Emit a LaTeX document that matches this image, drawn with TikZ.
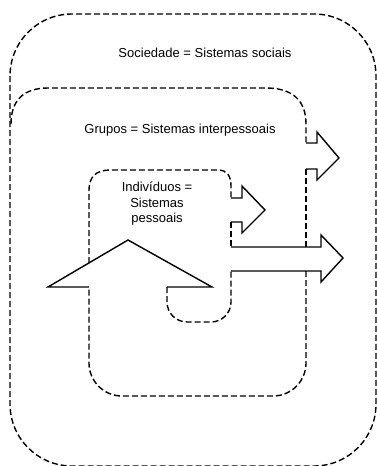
\documentclass[tikz,border=0pt]{standalone}
\usepackage{fontspec}
\setmainfont{Liberation Sans}

\begin{document}
\begin{tikzpicture}[x=1pt,y=-1pt,
  dashline/.style={line width=1.4pt,dash pattern=on 6pt off 3pt},
  arrowline/.style={line width=1.4pt,line join=miter},
  label/.style={font=\fontsize{13}{15.5}\selectfont,align=center}]
\useasboundingbox (0,0) rectangle (377,466);

\draw[dashline,rounded corners=62pt] (10,14) rectangle (376,466);
\draw[dashline] (11,124) .. controls (11,100) and (24,88) .. (48,88) -- (266,88)
  .. controls (292,88) and (306,100) .. (306,124) -- (306,143);
\draw[arrowline] (306,143) -- (317,143) -- (317,132) -- (339,158) -- (317,180) -- (317,169) -- (306,169);
\draw[dashline] (306,169) -- (306,247);

\draw[arrowline] (231,247) -- (321,247) -- (321,235) -- (343,258) -- (321,282) -- (321,271) -- (231,271);
\draw[dashline,rounded corners=33pt] (306,271) -- (306,396) -- (89,396) -- (89,287);

\draw[arrowline] (89,287) -- (48,287) -- (128,240) -- (212,287) -- (167,287);
\draw[dashline,rounded corners=20pt] (167,287) -- (167,322) -- (231,322) -- (231,271);

\draw[dashline] (89,263) -- (89,190) .. controls (89,177) and (96,170) .. (110,170) -- (218,170)
  .. controls (227,170) and (231,176) .. (231,186) -- (231,198);
\draw[arrowline] (231,198) -- (242,198) -- (242,186) -- (265,210) -- (242,233) -- (242,222) -- (231,222);
\draw[dashline] (231,222) -- (231,247);

\node[label] (soc) at (205,53) {Sociedade = Sistemas sociais};
\node[label] (grp) at (180,130) {Grupos = Sistemas interpessoais};
\node[label] (ind) at (157,204) {Indivíduos =\\Sistemas\\pessoais};
\end{tikzpicture}
\end{document}
